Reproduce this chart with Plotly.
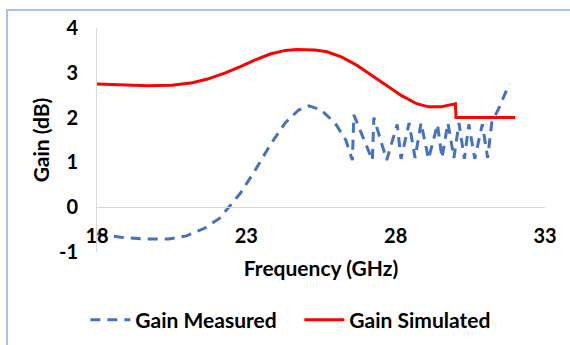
import plotly.graph_objects as go

# Simulated gain (red solid)
sim_freq = [18.0, 19.0, 19.7, 20.5, 21.2, 21.7, 22.3, 22.8, 23.3, 23.8, 24.3, 24.7,
            25.3, 25.7, 26.2, 26.7, 27.2, 27.7, 28.2, 28.7, 29.1, 29.5, 30.0, 30.02,
            31.0, 32.0]
sim_gain = [2.75, 2.73, 2.71, 2.72, 2.78, 2.86, 3.00, 3.14, 3.29, 3.42, 3.50, 3.52,
            3.51, 3.47, 3.35, 3.17, 2.95, 2.73, 2.49, 2.31, 2.24, 2.24, 2.31, 2.00,
            2.00, 2.00]

# Measured gain (blue dashed)
meas_freq = [18.0, 18.8, 19.6, 20.4, 21.0, 21.6, 22.1, 22.4, 22.8, 23.3, 23.8, 24.3,
             24.75, 25.1, 25.5, 25.97, 26.33, 26.55, 26.6, 27.22, 27.27, 27.7, 28.05,
             28.18, 28.45, 28.65, 28.85, 29.1, 29.4, 29.55, 29.75, 29.95, 30.12, 30.3,
             30.45, 30.65, 30.9, 31.08, 31.22, 31.45, 31.8]
meas_gain = [-0.60, -0.67, -0.71, -0.71, -0.64, -0.47, -0.25, -0.02, 0.31, 0.83, 1.39, 1.88,
             2.17, 2.26, 2.17, 1.88, 1.50, 1.05, 2.06, 1.05, 2.00, 1.05, 1.85,
             1.08, 1.88, 1.10, 1.88, 1.08, 1.85, 1.10, 1.88, 1.10, 1.88, 1.08,
             1.85, 1.08, 1.85, 1.10, 1.90, 2.20, 2.75]

x_ticks = [18, 23, 28, 33]
y_ticks = [-1, 0, 1, 2, 3, 4]

FONT = "Lato"
BLUE = "#4472C4"
RED = "#FF0000"
AXIS = "#D9D9D9"
TXT = dict(family=FONT, size=21, weight=700, color="black")
TICK = dict(family=FONT, size=20, weight=700, color="black")

fig = go.Figure()
fig.add_trace(go.Scatter(x=meas_freq, y=meas_gain, mode="lines", name="Gain Measured",
                         line=dict(color=BLUE, width=3, dash="10px,7px")))
fig.add_trace(go.Scatter(x=sim_freq, y=sim_gain, mode="lines", name="Gain Simulated",
                         line=dict(color=RED, width=3)))

fig.update_layout(
    width=570, height=345,
    margin=dict(l=97, r=25, t=28, b=93, autoexpand=False),
    paper_bgcolor="white", plot_bgcolor="white",
    font=dict(family=FONT, color="black", size=20),
    showlegend=True,
    legend=dict(orientation="h", x=-0.026, xanchor="left", y=-0.304, yanchor="middle",
                font=TXT, itemwidth=40,
                entrywidth=159, entrywidthmode="pixels", bgcolor="rgba(0,0,0,0)"),
    xaxis=dict(range=[18, 33], tickvals=x_ticks, ticktext=[str(v) for v in x_ticks],
               anchor="free", position=0.2, showline=True, linecolor=AXIS, linewidth=1,
               showgrid=False, zeroline=False, ticks="outside", ticklen=11,
               tickcolor="rgba(0,0,0,0)", tickfont=TICK,
               title=dict(text="Frequency (GHz)", standoff=15, font=TXT),
               automargin=False),
    yaxis=dict(range=[-1, 4], tickvals=y_ticks, ticktext=[str(v) for v in y_ticks],
               showline=True, linecolor=AXIS, linewidth=1, showgrid=False, zeroline=False,
               ticks="outside", ticklen=14, tickcolor="rgba(0,0,0,0)", tickfont=TICK,
               title=dict(text="Gain (dB)", standoff=3, font=TXT),
               automargin=False),
    shapes=[dict(type="rect", xref="paper", yref="paper",
                 x0=-0.2009, x1=1.2, y0=-0.6, y1=1.0804,
                 line=dict(color="#A9C4EB", width=2), fillcolor="rgba(0,0,0,0)",
                 layer="below")],
)

fig.write_html("out.html")
